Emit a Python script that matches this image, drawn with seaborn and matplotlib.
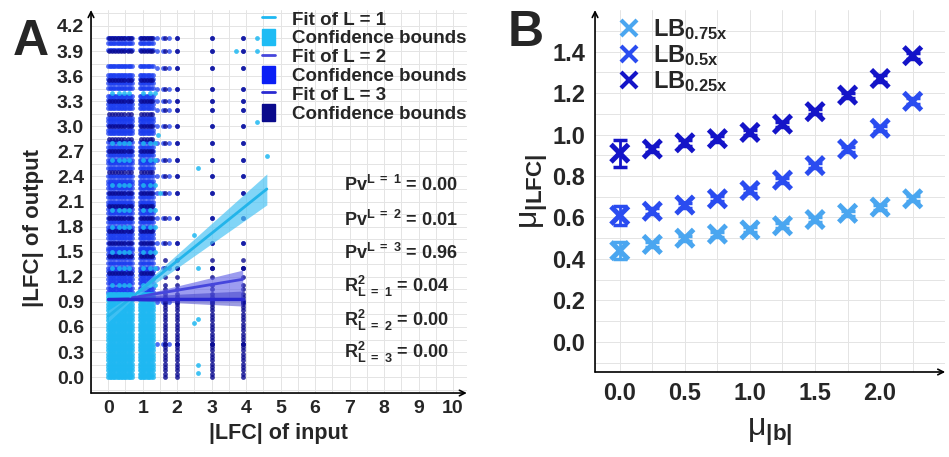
import numpy as np
import pandas as pd
import matplotlib
matplotlib.use("Agg")
import matplotlib.pyplot as plt
from matplotlib.lines import Line2D
from matplotlib.patches import Patch
import seaborn as sns


# =============================================
# Data
# =============================================

# Panel A: columns of the scatter cloud (x positions) and the y levels seen in them
block_x = [0.0, 0.04, 0.09, 0.13, 0.18, 0.22, 0.27, 0.31, 0.36, 0.41, 0.45, 0.5, 0.54, 0.59, 0.63, 0.68,
           0.92, 0.96, 1.01, 1.05, 1.1, 1.14, 1.19, 1.24, 1.3]
block_y_upper = [1.02, 1.06, 1.13, 1.17, 1.22, 1.27, 1.31, 1.36, 1.42, 1.47, 1.52, 1.55, 1.61, 1.66,
                 1.71, 1.76, 1.8, 1.86, 1.9, 1.96, 2.01, 2.06, 2.1, 2.16, 2.2, 2.26, 2.31, 2.35, 2.41,
                 2.5, 2.56, 2.6, 2.66, 2.71, 2.75, 2.81, 2.92, 2.96, 3.01, 3.06, 3.1, 3.22, 3.27, 3.31,
                 3.36, 3.46, 3.52, 3.56, 3.61, 3.72, 3.91, 4.0, 4.05]
block_y_lower = [0.0, 0.04, 0.08, 0.12, 0.16, 0.2, 0.24, 0.28, 0.32, 0.36, 0.4, 0.44, 0.48, 0.52,
                 0.56, 0.6, 0.64, 0.68, 0.72, 0.76, 0.8, 0.84, 0.88, 0.92, 0.96, 1.0]
light_upper_x = [0.1, 0.3, 0.45, 0.6, 1.0, 1.2, 1.35]
light_upper_y = [1.1, 1.3, 1.5, 1.8, 2.0, 2.3, 2.6, 2.8, 3.4]
navy_block_x = [0.02, 0.11, 0.2, 0.29, 0.38, 0.47, 0.56, 0.65, 0.94, 1.03, 1.12, 1.21, 1.28]
navy_block_y = [1.25, 1.45, 1.6, 1.75, 1.9, 2.05, 2.2, 2.45, 2.7, 2.85, 3.0, 3.15, 3.3, 3.55, 3.9, 4.05]
col_x = [1.4, 1.6, 1.75, 2.0, 3.0, 3.9]
col_y_sparse = [0.4, 0.9, 1.3, 1.6, 1.9, 2.2, 2.4, 2.6, 2.8, 3.0, 3.2, 3.3, 3.45, 3.7, 3.9, 4.05]
navy_col_x = [1.65, 2.0, 3.0, 3.9]
light_out_x = [2.6, 2.5, 2.6, 2.6, 2.5, 2.6, 2.6, 4.3, 4.3, 4.3, 4.6, 3.7, 1.45, 1.5]
light_out_y = [2.5, 1.7, 1.3, 0.7, 0.65, 0.15, 0.05, 4.05, 3.9, 3.05, 2.65, 3.9, 2.9, 2.2]

# Panel A: fitted lines and confidence bounds
fit1_x = [0.0, 0.7, 4.6]
fit1_y = [0.73, 0.96, 2.25]
fit1_lo = [0.66, 0.93, 2.06]
fit1_hi = [0.80, 0.99, 2.43]
fit2_x = [0.7, 3.9]
fit2_y = [0.95, 1.17]
fit2_lo = [0.94, 0.95]
fit2_hi = [0.96, 1.28]
fit3_x = [0.0, 3.9]
fit3_y = [0.94, 0.94]
fit3_lo = [0.93, 0.85]
fit3_hi = [0.95, 1.03]

stats_labels = [r"Pv$^{\mathbf{L\ =\ 1}}$ = 0.00", r"Pv$^{\mathbf{L\ =\ 2}}$ = 0.01",
                r"Pv$^{\mathbf{L\ =\ 3}}$ = 0.96", r"R$^{\mathbf{2}}_{\mathbf{L\ =\ 1}}$ = 0.04",
                r"R$^{\mathbf{2}}_{\mathbf{L\ =\ 2}}$ = 0.00", r"R$^{\mathbf{2}}_{\mathbf{L\ =\ 3}}$ = 0.00"]
stats_y = [2.30, 1.88, 1.49, 1.08, 0.68, 0.30]

# Panel B: mean |LFC| against mean |b|
mu_b = [0.0, 0.25, 0.5, 0.75, 1.0, 1.25, 1.5, 1.75, 2.0, 2.25]
lb075 = [0.44, 0.47, 0.50, 0.52, 0.54, 0.56, 0.59, 0.62, 0.65, 0.69]
lb05 = [0.61, 0.63, 0.66, 0.69, 0.73, 0.78, 0.85, 0.93, 1.03, 1.16]
lb025 = [0.91, 0.93, 0.96, 0.98, 1.01, 1.05, 1.11, 1.19, 1.27, 1.38]
err075 = [0.04, 0.012, 0.012, 0.012, 0.012, 0.012, 0.012, 0.012, 0.012, 0.012]
err05 = [0.045, 0.015, 0.012, 0.012, 0.012, 0.012, 0.012, 0.012, 0.012, 0.015]
err025 = [0.065, 0.015, 0.015, 0.015, 0.012, 0.012, 0.012, 0.012, 0.015, 0.015]

c_l1, c_l2, c_l3 = "#1eb8f2", "#1a3cf0", "#0a0a90"
c_b = ["#4aa6f0", "#2a4cf0", "#1414c8"]

# =============================================
# Build tables
# =============================================

def grid_pts(xs, ys, group):
    return pd.DataFrame([(x, y, group) for x in xs for y in ys], columns=["x", "y", "group"])

mid = pd.concat([grid_pts(block_x, block_y_upper, "L2"), grid_pts(col_x, col_y_sparse, "L2")])
navy = pd.concat([grid_pts(navy_block_x, navy_block_y, "L3"),
                  grid_pts(navy_col_x, block_y_lower + [1.05, 1.1, 1.2, 1.3, 1.4], "L3"),
                  grid_pts(navy_col_x, col_y_sparse, "L3")])
light = pd.concat([grid_pts(block_x, block_y_lower, "L1"),
                   grid_pts(light_upper_x, light_upper_y, "L1"),
                   pd.DataFrame({"x": light_out_x, "y": light_out_y, "group": "L1"})])

dfb = pd.DataFrame({"mu_b": mu_b * 3,
                    "mu_lfc": lb075 + lb05 + lb025,
                    "err": err075 + err05 + err025,
                    "series": ["0.75"] * 10 + ["0.5"] * 10 + ["0.25"] * 10})

# =============================================
# Figure
# =============================================
sns.set_style("white")
plt.rcParams["font.family"] = ["Liberation Sans", "DejaVu Sans"]
plt.rcParams["font.weight"] = "bold"
plt.rcParams["mathtext.fontset"] = "custom"
plt.rcParams["mathtext.rm"] = "Liberation Sans"
plt.rcParams["mathtext.bf"] = "Liberation Sans:bold"
plt.rcParams["mathtext.it"] = "Liberation Sans:italic"

fig = plt.figure(figsize=(9.49, 4.57), dpi=100)
axA = fig.add_axes([0.0959, 0.140, 0.396, 0.838])
axB = fig.add_axes([0.627, 0.186, 0.369, 0.792])

# ---------- Panel A ----------
ax = axA
for d, c, a in [(mid, c_l2, 0.75), (navy, c_l3, 0.8), (light, c_l1, 0.85)]:
    sns.scatterplot(data=d, x="x", y="y", color=c, marker="o", s=12, linewidth=0,
                    alpha=a, ax=ax, legend=False, zorder=2)

ax.fill_between(fit1_x, fit1_lo, fit1_hi, color="#4cc4f4", alpha=0.7, lw=0, zorder=3)
ax.fill_between(fit2_x, fit2_lo, fit2_hi, color="#5a5ae6", alpha=0.6, lw=0, zorder=3)
ax.fill_between(fit3_x, fit3_lo, fit3_hi, color="#3a3ac8", alpha=0.5, lw=0, zorder=3)
sns.lineplot(x=fit1_x, y=fit1_y, color="#22b4ea", lw=2, ax=ax, zorder=4)
sns.lineplot(x=fit2_x, y=fit2_y, color="#4646dc", lw=2, ax=ax, zorder=4)
sns.lineplot(x=fit3_x, y=fit3_y, color="#2a2ad2", lw=2.5, ax=ax, zorder=4)

for lab, yy in zip(stats_labels, stats_y):
    ax.text(6.85, yy, lab, fontsize=13, fontweight="bold", va="center", ha="left")

ax.set_xlim(-0.46, 10.4)
ax.set_ylim(-0.19, 4.39)
ax.set_xticks(range(0, 11))
ax.set_yticks([round(0.3 * i, 1) for i in range(15)])
ax.set_yticklabels([f"{0.3 * i:.1f}" for i in range(15)])
ax.set_xticks(np.arange(-0.5, 10.5, 0.5), minor=True)
ax.set_yticks(np.arange(-0.15, 4.4, 0.15), minor=True)
ax.grid(True, which="both", color="#e4e4e4", lw=0.7, zorder=0)
ax.tick_params(labelsize=14, length=0, pad=5)
ax.set_xlabel("|LFC| of input", fontsize=15.5, fontweight="bold", labelpad=4)
ax.set_ylabel("|LFC| of output", fontsize=16, fontweight="bold", labelpad=2)
ax.yaxis.set_label_coords(-0.125, 0.43)

handles = [Line2D([], [], color=c_l1, lw=2), Patch(color="#1ebcf4"),
           Line2D([], [], color="#4646dc", lw=2), Patch(color="#0a1ef5"),
           Line2D([], [], color="#2a2ad2", lw=2), Patch(color="#0a0a8c")]
labels = ["Fit of L = 1", "Confidence bounds", "Fit of L = 2", "Confidence bounds",
          "Fit of L = 3", "Confidence bounds"]
ax.legend(handles, labels, loc="upper right", bbox_to_anchor=(1.03, 1.03), frameon=False,
          fontsize=13.5, handlelength=0.7, handleheight=1.0, handletextpad=0.9,
          labelspacing=0.0, borderpad=0.1)

# ---------- Panel B ----------
ax = axB
for s, c in zip(["0.75", "0.5", "0.25"], c_b):
    d = dfb[dfb["series"] == s]
    ax.errorbar(d["mu_b"], d["mu_lfc"], yerr=d["err"], fmt="none", ecolor=c,
                elinewidth=2, capsize=5, capthick=2.5, zorder=3)
sns.scatterplot(data=dfb, x="mu_b", y="mu_lfc", hue="series", palette=c_b, marker="x",
                s=160, linewidth=3.6, ax=ax, legend=False, zorder=4)

ax.set_xlim(-0.19, 2.5)
ax.set_ylim(-0.145, 1.6)
ax.set_xticks([0.0, 0.5, 1.0, 1.5, 2.0])
ax.set_xticklabels(["0.0", "0.5", "1.0", "1.5", "2.0"])
ax.set_yticks([0.0, 0.2, 0.4, 0.6, 0.8, 1.0, 1.2, 1.4])
ax.set_yticklabels(["0.0", "0.2", "0.4", "0.6", "0.8", "1.0", "1.2", "1.4"])
ax.set_xticks(np.arange(0.25, 2.5, 0.5), minor=True)
ax.set_yticks(np.arange(-0.1, 1.6, 0.2), minor=True)
ax.grid(True, which="both", color="#e4e4e4", lw=0.7, zorder=0)
ax.tick_params(labelsize=17, length=0, pad=7)
ax.set_xlabel(r"μ$_{\mathbf{|b|}}$", fontsize=23, fontweight="normal", labelpad=9)
ax.set_ylabel(r"μ$_{\mathbf{|LFC|}}$", fontsize=23, fontweight="normal", labelpad=2)

bh = [Line2D([], [], color=c, marker="x", ls="none", ms=11, mew=3) for c in c_b]
ax.legend(bh, [r"LB$_{\mathbf{0.75x}}$", r"LB$_{\mathbf{0.5x}}$", r"LB$_{\mathbf{0.25x}}$"],
          loc="upper left", bbox_to_anchor=(0.03, 1.02), frameon=False, fontsize=17,
          handlelength=0.8, handletextpad=0.6, labelspacing=0.05, borderpad=0.1)

# axis lines with arrow heads
for ax in (axA, axB):
    for sp in ax.spines.values():
        sp.set_visible(False)
    ax.annotate("", xy=(0, 1), xytext=(0, 0), xycoords="axes fraction",
                arrowprops=dict(arrowstyle="->", lw=1.2, color="black", shrinkA=0, shrinkB=0))
    ax.annotate("", xy=(1, 0), xytext=(0, 0), xycoords="axes fraction",
                arrowprops=dict(arrowstyle="->", lw=1.2, color="black", shrinkA=0, shrinkB=0))

fig.text(0.032, 0.908, "A", fontsize=36, fontweight="bold", ha="center", va="center")
fig.text(0.554, 0.928, "B", fontsize=36, fontweight="bold", ha="center", va="center")

fig.savefig("out.png", dpi=100)
